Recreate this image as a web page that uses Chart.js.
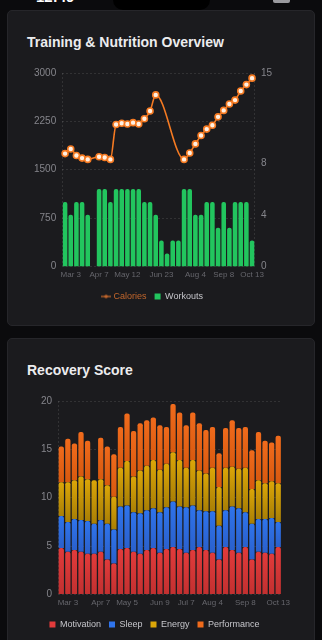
<!DOCTYPE html>
<html>
<head>
<meta charset="utf-8">
<script src="https://cdn.jsdelivr.net/npm/chart.js@4.4.1/dist/chart.umd.min.js"></script>
<style>
  html, body { margin: 0; padding: 0; background: #0b0b0d; }
  body { width: 322px; height: 640px; position: relative; overflow: hidden; font-family: "Liberation Sans", Arial, sans-serif; }
  .status-time { position: absolute; left: 36px; top: -12px; color: #fff; font-size: 15px; font-weight: 700; }
  .notch { position: absolute; left: 113px; top: -10px; width: 97px; height: 20px; background: #000; border-radius: 0 0 10px 10px; }
  .battery { position: absolute; left: 273px; top: -6px; width: 17px; height: 9px; background: #9a9a9e; border-radius: 2px; }
  .card { position: absolute; left: 7px; width: 306px; background: #1b1b1e; border: 1px solid #26262a; border-radius: 5px; }
  .card h2 { position: absolute; left: 19px; margin: 0; color: #ececee; font-size: 14px; font-weight: 700; }
  .chart-box { position: absolute; }
</style>
</head>
<body data-page="overview">
<div class="status-time">12:49</div>
<div class="notch"></div>
<div class="battery"></div>

<div class="card" style="top:10px;height:314px;">
  <h2 style="top:23px;">Training &amp; Nutrition Overview</h2>
  <div class="chart-box" style="left:12px;top:50px;width:264px;height:250px;">
    <canvas id="overviewChart"></canvas>
  </div>
</div>

<div class="card" style="top:338px;height:320px;">
  <h2 style="top:23px;">Recovery Score</h2>
  <div class="chart-box" style="left:7px;top:50px;width:279px;height:250px;">
    <canvas id="recoveryChart"></canvas>
  </div>
</div>

<script>
// ---------------------- Data ----------------------
const weeks = [
  "Feb 24", "Mar 3", "Mar 10", "Mar 17", "Mar 24", "Mar 31", "Apr 7", "Apr 14",
  "Apr 21", "Apr 28", "May 5", "May 12", "May 19", "May 26", "Jun 2", "Jun 9",
  "Jun 16", "Jun 23", "Jun 30", "Jul 7", "Jul 14", "Jul 21", "Jul 28", "Aug 4",
  "Aug 11", "Aug 18", "Aug 25", "Sep 1", "Sep 8", "Sep 15", "Sep 22", "Sep 29",
  "Oct 6", "Oct 13"
];

const calories = [
  1750, 1820, 1720, 1680, 1660, null, 1700, 1690, 1660, 2200, 2220, 2210,
  2230, 2210, 2290, 2410, 2660, null, null, null, null, 1660, 1760, 1900,
  2030, 2130, 2190, 2320, 2420, 2520, 2580, 2720, 2820, 2920
];

const workouts = [
  5, 4, 5, 5, 4, null, 6, 6, 5, 6, 6, 6, 6, 6, 5, 5, 4, 2, 1, 2, 2, 6, 6, 4,
  4, 5, 5, 3, 5, 3, 5, 5, 5, 2
];

const overviewTicks = ["Mar 3", "Apr 7", "May 12", "Jun 23", "Aug 4", "Sep 8", "Oct 13"];
const calorieTicks = [0, 750, 1500, 2250, 3000];
const workoutTicks = [0, 4, 8, 15];

const motivation = [
  4.8, 4.4, 4.6, 4.4, 4.2, 4.2, 4.4, 3.6, 3.2, 4.7, 4.8, 4.4, 4.2, 4.6, 4.8, 4.3, 4.7,
  4.9, 4.7, 4.3, 4.6, 4.9, 4.6, 4.3, 3.6, 4.9, 4.6, 4.3, 4.9, 3.6, 4.4, 4.3, 4.2, 4.9
];
const sleep = [
  3.3, 3.1, 3.2, 3.3, 3.4, 3.1, 3.3, 3.7, 3.5, 4.4, 4.4, 4.1, 4.2, 4.1, 4.1, 4.2, 4.3,
  4.7, 4.4, 4.7, 4.6, 3.8, 4.0, 4.3, 3.5, 3.8, 4.5, 4.6, 3.6, 3.7, 3.4, 3.5, 3.7, 2.6
];
const energy = [
  3.5, 4.1, 4.0, 4.5, 4.3, 4.5, 4.2, 4.0, 3.4, 4.0, 4.6, 3.7, 4.4, 4.6, 5.0, 4.4, 4.5,
  5.1, 4.8, 4.1, 4.7, 4.1, 3.9, 4.5, 4.0, 4.4, 4.1, 4.1, 4.6, 3.6, 4.0, 3.7, 3.8, 4.0
];
const performance = [
  3.7, 4.5, 3.8, 4.6, 4.0, 0, 4.3, 4.0, 4.4, 4.2, 4.9, 4.7, 4.9, 4.7, 4.4, 4.6, 3.8,
  5.0, 4.9, 4.4, 4.9, 4.9, 4.5, 4.2, 3.5, 4.1, 4.8, 4.2, 4.2, 4.0, 5.0, 4.4, 4.0, 4.9
];

const recoveryTicks = ["Mar 3", "Apr 7", "May 5", "Jun 9", "Jul 7", "Aug 4", "Sep 8", "Oct 13"];

// ---------------------- Shared style ----------------------
Chart.defaults.font.family = '"Liberation Sans", Arial, sans-serif';
Chart.defaults.animation = false;

const gridDash = "rgba(255, 255, 255, 0.10)";
const yTickColor = "#85858b";
const xTickColor = "#66666c";
const legendText = "#c6c6cb";

// dashed line only on the left / right edge of the plot
function edgeGrid(showRight) {
  return {
    offset: true,
    drawTicks: false,
    color: c => (c.index === 0 || (showRight && c.type === "scale")) ? gridDash : "transparent"
  };
}

function pickTicks(list) {
  return function (value) {
    const lbl = this.getLabelForValue(value);
    return list.includes(lbl) ? lbl : "";
  };
}

const plainNumber = v => String(v);

// small "line + dot" marker for the Calories legend entry
function lineDotMarker(color) {
  const c = document.createElement("canvas");
  c.width = 10;
  c.height = 6;
  const g = c.getContext("2d");
  g.strokeStyle = color;
  g.fillStyle = color;
  g.lineWidth = 1.3;
  g.beginPath();
  g.moveTo(0, 3);
  g.lineTo(10, 3);
  g.stroke();
  g.beginPath();
  g.arc(5, 3, 1.8, 0, Math.PI * 2);
  g.fill();
  return c;
}

// ---------------------- Training & Nutrition ----------------------
const calMarker = lineDotMarker("#c2662c");

new Chart(document.getElementById("overviewChart"), {
  type: "bar",
  data: {
    labels: weeks,
    datasets: [
      {
        type: "line",
        label: "Calories",
        data: calories,
        yAxisID: "y",
        borderColor: "#f57a22",
        backgroundColor: "#f57a22",
        borderWidth: 1.6,
        pointRadius: 3,
        pointBackgroundColor: "#fff0e2",
        pointBorderColor: "#f57a22",
        pointBorderWidth: 1.6,
        cubicInterpolationMode: "monotone",
        spanGaps: true,
        order: 0
      },
      {
        type: "bar",
        label: "Workouts",
        data: workouts,
        yAxisID: "y1",
        backgroundColor: "#22c55e",
        borderRadius: 2,
        borderSkipped: "bottom",
        barPercentage: 0.82,
        categoryPercentage: 0.98,
        order: 1
      }
    ]
  },
  options: {
    responsive: true,
    maintainAspectRatio: false,
    layout: { padding: { left: 8, right: 6, top: 2, bottom: 0 } },
    plugins: {
      tooltip: { enabled: false },
      legend: {
        position: "bottom",
        labels: {
          usePointStyle: true,
          boxWidth: 6,
          boxHeight: 6,
          padding: 8,
          font: { size: 9 },
          generateLabels: chart => {
            const items = Chart.defaults.plugins.legend.labels.generateLabels(chart);
            items.forEach(it => {
              if (it.text === "Calories") {
                it.pointStyle = calMarker;
                it.fontColor = "#c2662c";
              } else {
                it.pointStyle = "rect";
                it.fillStyle = "#22c55e";
                it.strokeStyle = "#22c55e";
                it.fontColor = legendText;
              }
            });
            return items;
          }
        }
      }
    },
    scales: {
      x: {
        grid: edgeGrid(true),
        border: { display: false, dash: [2, 2] },
        ticks: {
          autoSkip: false,
          maxRotation: 0,
          padding: 4,
          color: xTickColor,
          font: { size: 8 },
          callback: pickTicks(overviewTicks)
        }
      },
      y: {
        position: "left",
        min: 0,
        max: 3000,
        afterBuildTicks: axis => { axis.ticks = calorieTicks.map(v => ({ value: v })); },
        grid: { color: gridDash, drawTicks: false },
        border: { display: false, dash: [2, 2] },
        ticks: { color: yTickColor, padding: 6, font: { size: 10 }, callback: plainNumber }
      },
      y1: {
        position: "right",
        min: 0,
        max: 15,
        afterBuildTicks: axis => { axis.ticks = workoutTicks.map(v => ({ value: v })); },
        grid: { display: false, drawTicks: false },
        border: { display: false },
        ticks: { color: yTickColor, padding: 6, font: { size: 10 }, callback: plainNumber }
      }
    }
  }
});

// ---------------------- Recovery Score ----------------------
const recoverySeries = [motivation, sleep, energy, performance];
const recoveryNames = ["Motivation", "Sleep", "Energy", "Performance"];
const recoveryColors = ["#e23b3b", "#2f74ec", "#dba608", "#f06b1c"];
const recoveryShade = ["#c23030", "#2a60cc", "#a97f05", "#d8590f"];

// vertical shade inside each stacked segment
function segmentFill(si) {
  return ctx => {
    if (ctx.type !== "data") return recoveryColors[si];
    const chart = ctx.chart;
    const yScale = chart.scales.y;
    if (!yScale || !chart.chartArea) return recoveryColors[si];
    const i = ctx.dataIndex;
    let base = 0;
    for (let k = 0; k < si; k++) base += recoverySeries[k][i] || 0;
    const v = recoverySeries[si][i] || 0;
    const top = yScale.getPixelForValue(base + v);
    const bot = yScale.getPixelForValue(base);
    if (!isFinite(top) || !isFinite(bot) || top === bot) return recoveryColors[si];
    const g = chart.ctx.createLinearGradient(0, top, 0, bot);
    g.addColorStop(0, recoveryColors[si]);
    g.addColorStop(1, recoveryShade[si]);
    return g;
  };
}

new Chart(document.getElementById("recoveryChart"), {
  type: "bar",
  data: {
    labels: weeks,
    datasets: recoverySeries.map((vals, si) => ({
      label: recoveryNames[si],
      data: vals,
      backgroundColor: segmentFill(si),
      borderRadius: { topLeft: 2, topRight: 2, bottomLeft: 0, bottomRight: 0 },
      borderSkipped: "bottom",
      barPercentage: 0.82,
      categoryPercentage: 0.98
    }))
  },
  options: {
    responsive: true,
    maintainAspectRatio: false,
    layout: { padding: { left: 0, right: 0, top: 0, bottom: 0 } },
    plugins: {
      tooltip: { enabled: false },
      legend: {
        position: "bottom",
        labels: {
          boxWidth: 6,
          boxHeight: 6,
          padding: 8,
          font: { size: 9 },
          generateLabels: chart => {
            const items = Chart.defaults.plugins.legend.labels.generateLabels(chart);
            items.forEach(it => {
              it.fillStyle = recoveryColors[it.datasetIndex];
              it.strokeStyle = recoveryColors[it.datasetIndex];
              it.lineWidth = 0;
              it.fontColor = legendText;
            });
            return items;
          }
        }
      }
    },
    scales: {
      x: {
        stacked: true,
        grid: edgeGrid(false),
        border: { display: false, dash: [2, 2] },
        ticks: {
          autoSkip: false,
          maxRotation: 0,
          padding: 4,
          color: xTickColor,
          font: { size: 8 },
          callback: pickTicks(recoveryTicks)
        }
      },
      y: {
        stacked: true,
        min: 0,
        max: 20,
        afterFit: axis => { axis.width = 43; },
        ticks: { stepSize: 5, color: yTickColor, padding: 6, font: { size: 10 } },
        grid: { color: gridDash, drawTicks: false },
        border: { display: false, dash: [2, 2] }
      }
    }
  }
});
</script>
</body>
</html>
